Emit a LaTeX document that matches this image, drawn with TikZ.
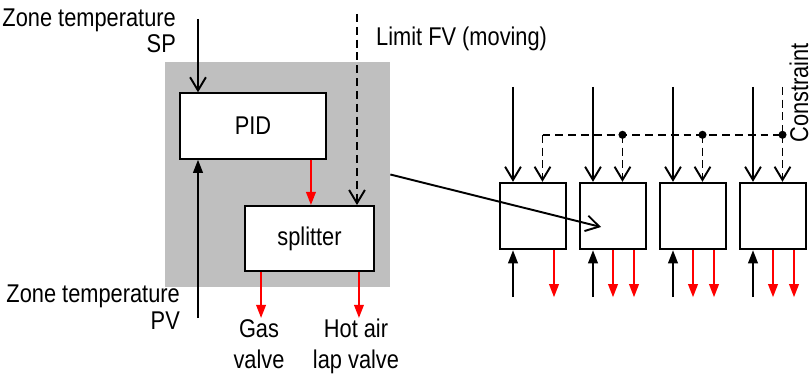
\documentclass[tikz,border=0pt]{standalone}
\usepackage{fontspec}
\setmainfont{Liberation Sans}[FakeStretch=0.85]
\usepackage{tikz}
\usetikzlibrary{arrows.meta, positioning, calc}
\definecolor{ctrlgray}{RGB}{191,191,191}
\definecolor{sigred}{RGB}{255,0,0}
\tikzset{
  %% ---- boxes ----
  ctrlbox/.style  = {rectangle, draw=black, line width=1.1pt,
                     fill=white, minimum width=#1, minimum height=1.31cm,
                     inner sep=0pt, align=center},
  ctrlbox/.default = 2.92cm,
  unitbox/.style  = {rectangle, draw=black, line width=1.1pt,
                     fill=white, minimum size=1.33cm, inner sep=0pt},
  graybox/.style  = {rectangle, fill=ctrlgray, minimum size=4.5cm,
                     inner sep=0pt},
  lbl/.style      = {align=#1, anchor=base},
  lbl/.default    = center,
  %% ---- arrows ----
  openarrow/.style   = {-{Straight Barb[length=7.5pt, width=9pt]},
                        line width=1.1pt, color=black},
  solidarrow/.style  = {-{Triangle[length=7.5pt, width=5.5pt]},
                        line width=1.1pt, color=black},
  redarrow/.style    = {-{Triangle[length=7.5pt, width=5.5pt]},
                        line width=1.1pt, color=sigred},
  limitarrow/.style  = {openarrow, dash pattern=on 4.5pt off 2.8pt},
  limitline/.style   = {line width=1.1pt, dash pattern=on 4.5pt off 2.8pt},
}

\begin{document}
\begin{tikzpicture}[
  x=0.02cm, y=-0.02cm,
  every node/.style = {font=\fontsize{14.6}{14.8}\selectfont}
]
\useasboundingbox (0,0) rectangle (811,375);

%% controller block
\node[graybox] (ctrl) at (277.5,174.5) {};
\node[ctrlbox] (pid) at (253,126) {PID};
\node[ctrlbox=2.58cm, minimum height=1.3cm] (spl) at (309.5,238.5) {splitter};

\coordinate (spin) at (198,19);
\coordinate (pvin) at (198,318);
\coordinate (lim)  at (357,14);
\draw[openarrow]  (spin) -- (spin |- pid.north);
\draw[solidarrow] (pvin) -- (pvin |- pid.south);
\draw[limitarrow] (lim) -- (lim |- spl.north);
\draw[redarrow] ($(pid.south east)+(-16,0)$) coordinate (pidout) -- (pidout |- spl.north);
\draw[redarrow] ($(spl.south west)+(17,0)$) coordinate (gasout) -- ++(0,46);
\draw[redarrow] ($(spl.south east)+(-16,0)$) coordinate (hotout) -- ++(0,46);

% base anchor sits on the last line
\node[lbl=right, anchor=base east] (splbl) at (182,53) {Zone temperature\\SP};
\node[lbl=right, anchor=base east] (pvlbl) at (186,329) {Zone temperature\\PV};
\node[lbl, anchor=base west] (limlbl) at (370,46) {Limit FV (moving)};
\node[lbl] (gaslbl) at (259,368) {Gas\\[2.8pt]valve};
\node[lbl] (hotlbl) at (356,368) {Hot air\\[2.8pt]lap valve};

%% zone units
\foreach \i/\x in {1/533,2/613,3/693,4/773}{
  \node[unitbox] (u\i) at (\x,216) {};
  \draw[openarrow]  ($(u\i.north)+(-20,-95)$) -- ($(u\i.north)+(-20,0)$);
  \draw[limitarrow] ($(u\i.north)+(9.5,-47)$) coordinate (bus\i) -- ($(u\i.north)+(9.5,0)$);
  \draw[solidarrow] ($(u\i.south)+(-20,47)$) -- ($(u\i.south)+(-20,0)$);
  \draw[redarrow]   ($(u\i.south)+(21,0)$) -- ++(0,47);
}
\foreach \i in {2,3,4}{
  \draw[redarrow] (u\i.south) -- ++(0,47);
  \fill (bus\i) circle (2.3pt);
}
\draw[limitline] (bus1) -- (bus4);
\coordinate (cst) at ($(bus4)+(0,-48)$);
\draw[limitline] (cst) -- (bus4);
\node[rotate=90, anchor=base, inner sep=0pt] (cstlbl) at (808,93) {Constraint};

\coordinate (tgt) at ($(u2.center)+(-12,11)$);
\draw[openarrow] (ctrl.east) -- (tgt);
\end{tikzpicture}
\end{document}
